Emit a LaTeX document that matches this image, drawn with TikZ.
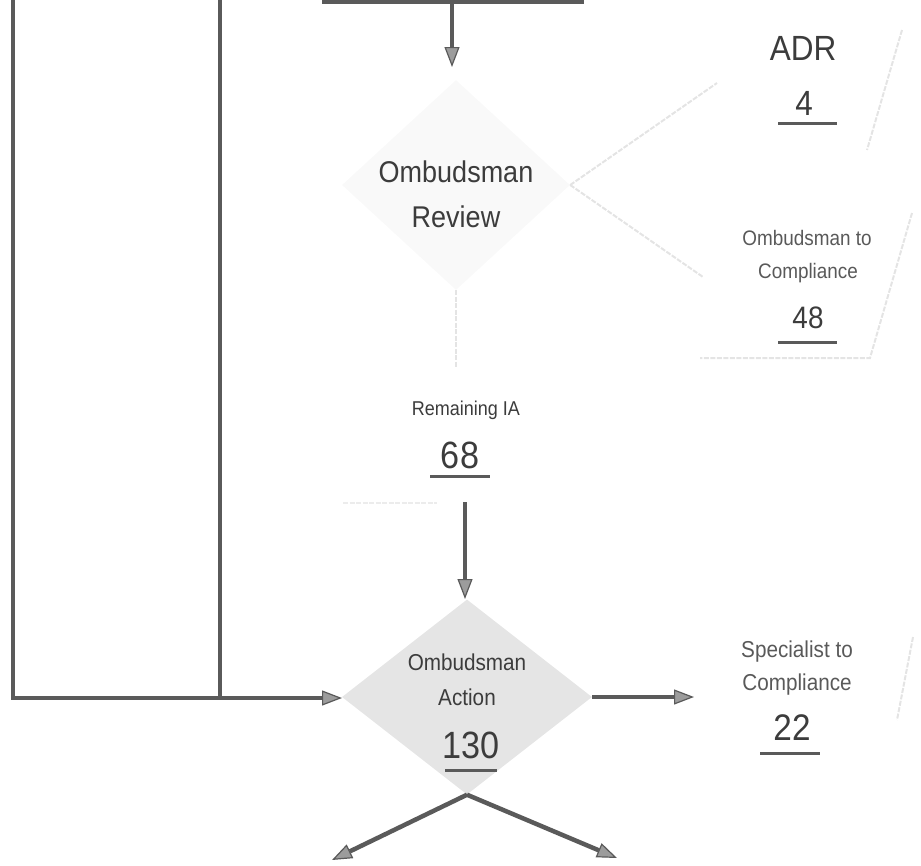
\documentclass[tikz,border=0pt]{standalone}
\usepackage{fontspec}
\setmainfont{Liberation Sans}[FakeStretch=0.9]
\usetikzlibrary{arrows.meta,shapes.geometric}
\definecolor{ink}{HTML}{5A5A5A}
\definecolor{txt}{HTML}{3C3C3C}
\definecolor{faint}{HTML}{E4E4E4}
\tikzset{
  flow/.style={draw=ink, line width=4.5pt},
  arr/.style={flow, -{Triangle[length=20pt,width=15pt,fill=ink!60,line width=1.2pt]}},
  faintline/.style={draw=faint, line width=2pt, dash pattern=on 5pt off 1.5pt},
  lbl/.style={anchor=base, inner sep=0pt, text=txt},
  num/.style={anchor=base, inner sep=0pt, text=txt},
  ul/.style={draw=ink, line width=3pt},
}
\begin{document}
\begin{tikzpicture}[x=1pt,y=-1pt]
\useasboundingbox (0,0) rectangle (921,865);
\clip (0,0) rectangle (921,865);

% top box (mostly above the picture)
\node[draw=ink, line width=4.5pt, minimum width=258pt, minimum height=40pt, inner sep=0pt] (box) at (453,-18) {};

% diamonds
\node[diamond, fill=gray!5, minimum width=228pt, minimum height=210pt, inner sep=0pt] (rev) at (456,185) {};
\node[diamond, fill=gray!20, minimum width=250pt, minimum height=195pt, inner sep=0pt] (act) at (467,697) {};

% faint decorations
\coordinate (adrl) at (717,83);
\coordinate (cmpl) at (703,277);
\draw[faintline] (rev.east) -- (adrl);
\draw[faintline] (rev.east) -- (cmpl);
\coordinate (remtop) at (456,368);
\draw[faintline] (rev.south) -- (remtop);
\coordinate (f1a) at (902,30);  \coordinate (f1b) at (867,150);
\coordinate (f2a) at (912,213); \coordinate (f2b) at (870,358);
\coordinate (f3a) at (700,358);
\coordinate (f4a) at (913,637); \coordinate (f4b) at (897,720);
\coordinate (f5a) at (343,503); \coordinate (f5b) at (437,503);
\draw[faintline] (f1a) -- (f1b);
\draw[faintline] (f2a) -- (f2b) -- (f3a);
\draw[faintline] (f4a) -- (f4b);
\draw[faintline, draw=faint!70] (f5a) -- (f5b);

% Review text
\node[lbl, font=\fontsize{30}{36}\selectfont] (revA) at (456,182) {Ombudsman};
\node[lbl, font=\fontsize{30}{36}\selectfont] (revB) at (456,227) {Review};

% ADR
\node[lbl, font=\fontsize{35}{40}\selectfont] (adr) at (803,60) {ADR};
\node[num, font=\fontsize{35}{40}\selectfont] (n4) at (804,115) {4};
\coordinate (u4a) at (778,123); \coordinate (u4b) at (837,123);
\draw[ul] (u4a) -- (u4b);

% Ombudsman to Compliance
\node[lbl, font=\fontsize{21}{25}\selectfont, text=txt!85] (occA) at (807,245) {Ombudsman to};
\node[lbl, font=\fontsize{21}{25}\selectfont, text=txt!85] (occB) at (808,278) {Compliance};
\node[num, font=\fontsize{31}{36}\selectfont] (n48) at (808,328) {48};
\coordinate (u48a) at (778,342); \coordinate (u48b) at (837,342);
\draw[ul] (u48a) -- (u48b);

% Remaining IA
\node[lbl, font=\fontsize{20}{24}\selectfont] (rem) at (466,415) {Remaining IA};
\node[num, font=\fontsize{38}{44}\selectfont] (n68) at (460,468) {68};
\coordinate (u68a) at (430,476); \coordinate (u68b) at (490,476);
\draw[ul] (u68a) -- (u68b);

% Action text
\node[lbl, font=\fontsize{23}{28}\selectfont] (actA) at (467,670) {Ombudsman};
\node[lbl, font=\fontsize{23}{28}\selectfont] (actB) at (467,705) {Action};
\node[num, font=\fontsize{38}{44}\selectfont] (n130) at (471,758) {130};
\coordinate (u130a) at (445,770); \coordinate (u130b) at (497,770);
\draw[ul] (u130a) -- (u130b);

% Specialist to Compliance
\node[lbl, font=\fontsize{23}{28}\selectfont, text=txt!85] (spcA) at (797,657) {Specialist to};
\node[lbl, font=\fontsize{23}{28}\selectfont, text=txt!85] (spcB) at (797,690) {Compliance};
\node[num, font=\fontsize{37}{42}\selectfont] (n22) at (792,740) {22};
\coordinate (u22a) at (760,753); \coordinate (u22b) at (820,753);
\draw[ul] (u22a) -- (u22b);

% connectors
\coordinate (revin) at (452,67);
\draw[arr] (box.south -| revin) -- (revin);
\coordinate (actin) at (465,599);
\coordinate (remout) at (465,502);
\draw[arr] (remout) -- (actin);

\coordinate (loopA) at (13,-5);
\coordinate (loopB) at (220,-5);
\coordinate (actwest) at (342,698);
\draw[arr] (loopA) |- (actwest);
\draw[flow] (loopB) -- (loopB |- actwest);

\coordinate (spcin) at (694,697);
\draw[arr] (act.east) -- (spcin);

\coordinate (outL) at (332,860);
\coordinate (outR) at (617,858);
\draw[arr] (act.south) -- (outL);
\draw[arr] (act.south) -- (outR);
\end{tikzpicture}
\end{document}
